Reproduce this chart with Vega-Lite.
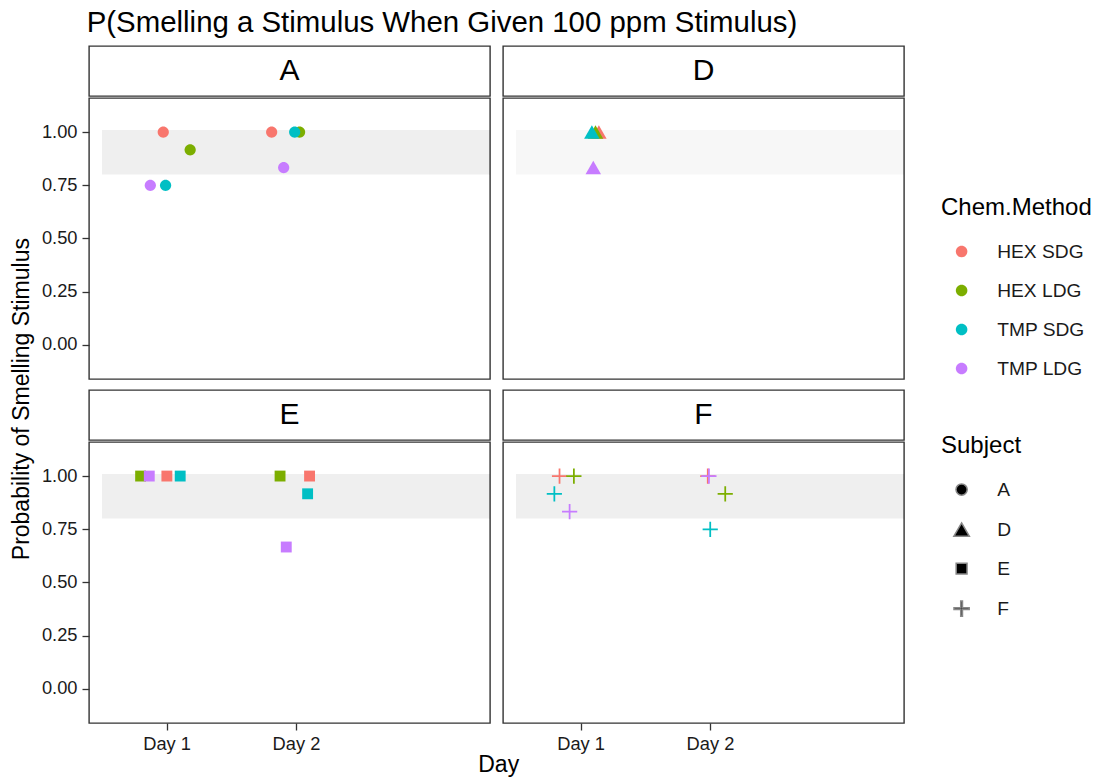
{
  "$schema": "https://vega.github.io/schema/vega-lite/v6.json",
  "background": "white",
  "padding": {"left": 10, "top": 7, "right": 5, "bottom": 3},
  "title": {
    "text": "P(Smelling a Stimulus When Given 100 ppm Stimulus)",
    "anchor": "start",
    "fontSize": 29.4,
    "fontWeight": "normal",
    "color": "#000000",
    "offset": 7,
    "dx": 76
  },
  "datasets": {
    "bands": [
      {"subject": "A", "x0": 0.5, "x1": 3.5, "lo": 0.8, "hi": 1.01},
      {"subject": "D", "x0": 0.5, "x1": 3.5, "lo": 0.8, "hi": 1.01},
      {"subject": "E", "x0": 0.5, "x1": 3.5, "lo": 0.8, "hi": 1.01},
      {"subject": "F", "x0": 0.5, "x1": 3.5, "lo": 0.8, "hi": 1.01}
    ],
    "obs": [
      {"subject": "A", "method": "HEX SDG", "day": 0.974, "p": 1.0},
      {"subject": "A", "method": "HEX SDG", "day": 1.812, "p": 1.0},
      {"subject": "A", "method": "HEX LDG", "day": 1.182, "p": 0.9167},
      {"subject": "A", "method": "HEX LDG", "day": 2.028, "p": 1.0},
      {"subject": "A", "method": "TMP SDG", "day": 0.992, "p": 0.75},
      {"subject": "A", "method": "TMP SDG", "day": 1.99, "p": 1.0},
      {"subject": "A", "method": "TMP LDG", "day": 0.874, "p": 0.75},
      {"subject": "A", "method": "TMP LDG", "day": 1.905, "p": 0.8333},
      {"subject": "D", "method": "HEX SDG", "day": 1.141, "p": 1.0},
      {"subject": "D", "method": "HEX LDG", "day": 1.115, "p": 1.0},
      {"subject": "D", "method": "TMP SDG", "day": 1.087, "p": 1.0},
      {"subject": "D", "method": "TMP LDG", "day": 1.098, "p": 0.8333},
      {"subject": "E", "method": "HEX SDG", "day": 1.002, "p": 1.0},
      {"subject": "E", "method": "HEX SDG", "day": 2.105, "p": 1.0},
      {"subject": "E", "method": "HEX LDG", "day": 0.799, "p": 1.0},
      {"subject": "E", "method": "HEX LDG", "day": 1.877, "p": 1.0},
      {"subject": "E", "method": "TMP SDG", "day": 1.105, "p": 1.0},
      {"subject": "E", "method": "TMP SDG", "day": 2.09, "p": 0.9167},
      {"subject": "E", "method": "TMP LDG", "day": 0.866, "p": 1.0},
      {"subject": "E", "method": "TMP LDG", "day": 1.925, "p": 0.6667},
      {"subject": "F", "method": "HEX SDG", "day": 0.837, "p": 1.0},
      {"subject": "F", "method": "HEX SDG", "day": 1.983, "p": 1.0},
      {"subject": "F", "method": "HEX LDG", "day": 0.948, "p": 1.0},
      {"subject": "F", "method": "HEX LDG", "day": 2.118, "p": 0.9167},
      {"subject": "F", "method": "TMP SDG", "day": 0.797, "p": 0.9167},
      {"subject": "F", "method": "TMP SDG", "day": 2.002, "p": 0.75},
      {"subject": "F", "method": "TMP LDG", "day": 0.915, "p": 0.8333},
      {"subject": "F", "method": "TMP LDG", "day": 1.992, "p": 1.0}
    ]
  },
  "data": {"name": "obs"},
  "vconcat": [
    {
      "title": {"text": "Day", "orient": "bottom", "anchor": "middle", "fontSize": 23, "fontWeight": "normal", "color": "#000000", "offset": 1, "dx": 41},
      "spacing": 11,
      "hconcat": [
        {
          "title": {"text": "Probability of Smelling Stimulus", "orient": "left", "anchor": "middle", "fontSize": 23, "fontWeight": "normal", "color": "#000000", "offset": 11, "dy": 4},
          "spacing": 9,
          "vconcat": [
            {
              "spacing": 0,
              "vconcat": [
                {
                  "width": 401, "height": 50,
                  "data": {"name": "bands"},
                  "transform": [{"filter": "datum.subject === 'A'"}],
                  "mark": {"type": "text", "fontSize": 30, "baseline": "middle", "align": "center", "color": "#000000"},
                  "encoding": {
                    "x": {"field": "subject", "type": "nominal", "axis": null},
                    "y": {"field": "subject", "type": "nominal", "axis": null},
                    "text": {"field": "subject", "type": "nominal"}
                  }
                },
                {
                  "width": 401, "height": 281,
                  "transform": [{"filter": "datum.subject === 'A'"}, {"lookup": "subject", "from": {"data": {"name": "bands"}, "key": "subject", "fields": ["x0", "x1", "lo", "hi"]}}],
                  "layer": [
                    {
                      "mark": {"type": "rect", "fill": "#000000", "opacity": 0.009},
                      "encoding": {
                        "x": {"field": "x0", "type": "quantitative", "axis": null},
                        "x2": {"field": "x1"},
                        "y": {"field": "lo", "type": "quantitative", "axis": {"title": null, "values": [0, 0.25, 0.5, 0.75, 1], "format": ".2f"}},
                        "y2": {"field": "hi"}
                      }
                    },
                    {
                      "mark": {"type": "point", "filled": true, "size": 256, "opacity": 1},
                      "encoding": {
                        "x": {"field": "day", "type": "quantitative", "scale": {"domain": [0.4, 3.5], "nice": false, "zero": false}, "axis": null},
                        "y": {"field": "p", "type": "quantitative", "scale": {"domain": [-0.16, 1.16], "nice": false, "zero": false}, "axis": {"title": null, "values": [0, 0.25, 0.5, 0.75, 1], "format": ".2f"}},
                        "color": {"field": "method", "type": "nominal", "scale": {"domain": ["HEX SDG", "HEX LDG", "TMP SDG", "TMP LDG"], "range": ["#F8766D", "#7CAE00", "#00BFC4", "#C77CFF"]}, "legend": {"title": "Chem.Method", "orient": "none", "legendX": 852, "legendY": 150, "symbolType": "M0,-0.72A0.72,0.72 0 1,1 0,0.72A0.72,0.72 0 1,1 0,-0.72Z"}},
                        "shape": {"field": "subject", "type": "nominal", "scale": {"domain": ["A", "D", "E", "F"], "range": ["M0,-0.7A0.7,0.7 0 1,1 0,0.7A0.7,0.7 0 1,1 0,-0.7Z", "M0,-0.84L0.97,0.84L-0.97,0.84Z", "M-0.68,-0.68H0.68V0.68H-0.68Z", "M-0.95,-0.11H-0.11V-0.95H0.11V-0.11H0.95V0.11H0.11V0.95H-0.11V0.11H-0.95Z"]}, "legend": {"title": "Subject", "orient": "none", "legendX": 852, "legendY": 388, "symbolFillColor": "#000000"}}
                      }
                    }
                  ]
                }
              ]
            },
            {
              "spacing": 0,
              "vconcat": [
                {
                  "width": 401, "height": 50,
                  "data": {"name": "bands"},
                  "transform": [{"filter": "datum.subject === 'E'"}],
                  "mark": {"type": "text", "fontSize": 30, "baseline": "middle", "align": "center", "color": "#000000"},
                  "encoding": {
                    "x": {"field": "subject", "type": "nominal", "axis": null},
                    "y": {"field": "subject", "type": "nominal", "axis": null},
                    "text": {"field": "subject", "type": "nominal"}
                  }
                },
                {
                  "width": 401, "height": 281,
                  "transform": [{"filter": "datum.subject === 'E'"}, {"lookup": "subject", "from": {"data": {"name": "bands"}, "key": "subject", "fields": ["x0", "x1", "lo", "hi"]}}],
                  "layer": [
                    {
                      "mark": {"type": "rect", "fill": "#000000", "opacity": 0.009},
                      "encoding": {
                        "x": {"field": "x0", "type": "quantitative", "axis": {"title": null, "values": [1, 2], "labelExpr": "'Day ' + datum.value"}},
                        "x2": {"field": "x1"},
                        "y": {"field": "lo", "type": "quantitative", "axis": {"title": null, "values": [0, 0.25, 0.5, 0.75, 1], "format": ".2f"}},
                        "y2": {"field": "hi"}
                      }
                    },
                    {
                      "mark": {"type": "point", "filled": true, "size": 256, "opacity": 1},
                      "encoding": {
                        "x": {"field": "day", "type": "quantitative", "scale": {"domain": [0.4, 3.5], "nice": false, "zero": false}, "axis": {"title": null, "values": [1, 2], "labelExpr": "'Day ' + datum.value"}},
                        "y": {"field": "p", "type": "quantitative", "scale": {"domain": [-0.16, 1.16], "nice": false, "zero": false}, "axis": {"title": null, "values": [0, 0.25, 0.5, 0.75, 1], "format": ".2f"}},
                        "color": {"field": "method", "type": "nominal"},
                        "shape": {"field": "subject", "type": "nominal"}
                      }
                    }
                  ]
                }
              ]
            }
          ]
        },
        {
          "spacing": 9,
          "vconcat": [
            {
              "spacing": 0,
              "vconcat": [
                {
                  "width": 401, "height": 50,
                  "data": {"name": "bands"},
                  "transform": [{"filter": "datum.subject === 'D'"}],
                  "mark": {"type": "text", "fontSize": 30, "baseline": "middle", "align": "center", "color": "#000000"},
                  "encoding": {
                    "x": {"field": "subject", "type": "nominal", "axis": null},
                    "y": {"field": "subject", "type": "nominal", "axis": null},
                    "text": {"field": "subject", "type": "nominal"}
                  }
                },
                {
                  "width": 401, "height": 281,
                  "transform": [{"filter": "datum.subject === 'D'"}, {"lookup": "subject", "from": {"data": {"name": "bands"}, "key": "subject", "fields": ["x0", "x1", "lo", "hi"]}}],
                  "layer": [
                    {
                      "mark": {"type": "rect", "fill": "#000000", "opacity": 0.009},
                      "encoding": {
                        "x": {"field": "x0", "type": "quantitative", "axis": null},
                        "x2": {"field": "x1"},
                        "y": {"field": "lo", "type": "quantitative", "axis": null},
                        "y2": {"field": "hi"}
                      }
                    },
                    {
                      "mark": {"type": "point", "filled": true, "size": 256, "opacity": 1},
                      "encoding": {
                        "x": {"field": "day", "type": "quantitative", "scale": {"domain": [0.4, 3.5], "nice": false, "zero": false}, "axis": null},
                        "y": {"field": "p", "type": "quantitative", "scale": {"domain": [-0.16, 1.16], "nice": false, "zero": false}, "axis": null},
                        "color": {"field": "method", "type": "nominal"},
                        "shape": {"field": "subject", "type": "nominal"}
                      }
                    }
                  ]
                }
              ]
            },
            {
              "spacing": 0,
              "vconcat": [
                {
                  "width": 401, "height": 50,
                  "data": {"name": "bands"},
                  "transform": [{"filter": "datum.subject === 'F'"}],
                  "mark": {"type": "text", "fontSize": 30, "baseline": "middle", "align": "center", "color": "#000000"},
                  "encoding": {
                    "x": {"field": "subject", "type": "nominal", "axis": null},
                    "y": {"field": "subject", "type": "nominal", "axis": null},
                    "text": {"field": "subject", "type": "nominal"}
                  }
                },
                {
                  "width": 401, "height": 281,
                  "transform": [{"filter": "datum.subject === 'F'"}, {"lookup": "subject", "from": {"data": {"name": "bands"}, "key": "subject", "fields": ["x0", "x1", "lo", "hi"]}}],
                  "layer": [
                    {
                      "mark": {"type": "rect", "fill": "#000000", "opacity": 0.009},
                      "encoding": {
                        "x": {"field": "x0", "type": "quantitative", "axis": {"title": null, "values": [1, 2], "labelExpr": "'Day ' + datum.value"}},
                        "x2": {"field": "x1"},
                        "y": {"field": "lo", "type": "quantitative", "axis": null},
                        "y2": {"field": "hi"}
                      }
                    },
                    {
                      "mark": {"type": "point", "filled": true, "size": 256, "opacity": 1},
                      "encoding": {
                        "x": {"field": "day", "type": "quantitative", "scale": {"domain": [0.4, 3.5], "nice": false, "zero": false}, "axis": {"title": null, "values": [1, 2], "labelExpr": "'Day ' + datum.value"}},
                        "y": {"field": "p", "type": "quantitative", "scale": {"domain": [-0.16, 1.16], "nice": false, "zero": false}, "axis": null},
                        "color": {"field": "method", "type": "nominal"},
                        "shape": {"field": "subject", "type": "nominal"}
                      }
                    }
                  ]
                }
              ]
            }
          ]
        }
      ]
    }
  ],
  "config": {
    "font": "Liberation Sans",
    "view": {"stroke": "#333333", "strokeWidth": 1.4, "fill": "white"},
    "axis": {
      "domain": false,
      "grid": false,
      "tickColor": "#333333",
      "tickSize": 7,
      "tickWidth": 1.3,
      "labelFontSize": 18.3,
      "labelColor": "#1a1a1a",
      "labelPadding": 5
    },
    "legend": {
      "titleFontSize": 24,
      "titleFontWeight": "normal",
      "titleColor": "#000000",
      "labelFontSize": 19.2,
      "labelColor": "#1a1a1a",
      "symbolSize": 256,
      "rowPadding": 19,
      "titlePadding": 22,
      "labelOffset": 26,
      "symbolOffset": 11
    }
  }
}
